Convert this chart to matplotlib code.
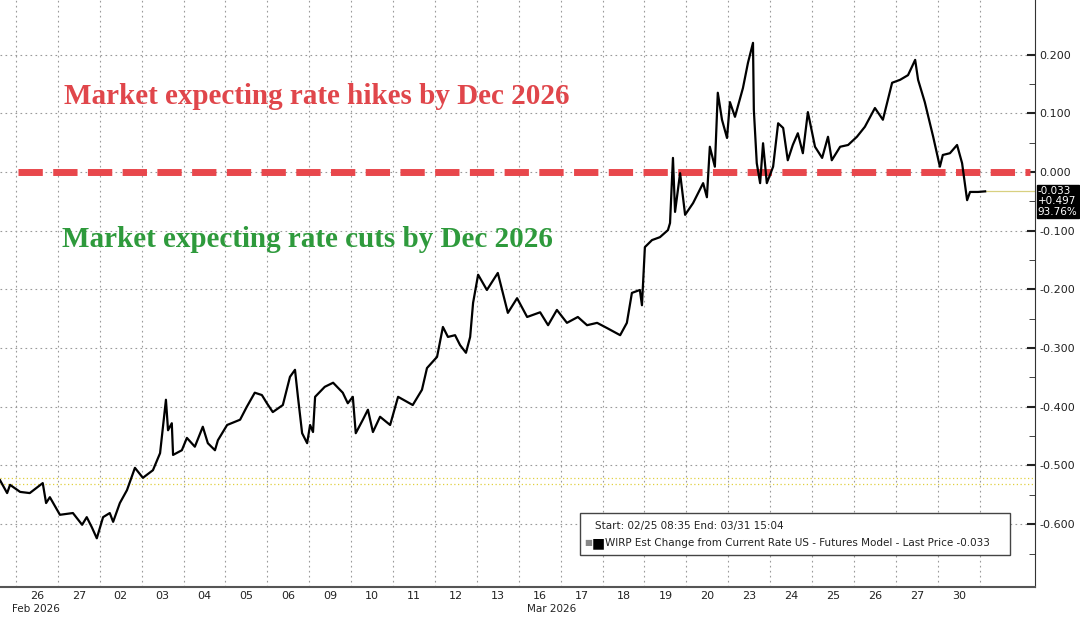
import matplotlib
matplotlib.use("Agg")
import matplotlib.pyplot as plt
from matplotlib.patches import Rectangle

day_labels = ["26","27","02","03","04","05","06","09","10","11","12","13","16","17","18","19","20","23","24","25","26","27","30"]
x = [-0.38,-0.21,-0.14,0.10,0.33,0.64,0.72,0.81,1.05,1.36,1.58,1.69,1.81,1.93,2.08,2.24,2.32,2.48,2.65,2.84,3.03,3.27,3.44,3.58,3.63,3.72,3.75,3.96,4.08,4.27,4.46,4.58,4.75,4.82,5.04,5.35,5.51,5.70,5.87,5.99,6.13,6.37,6.54,6.66,6.73,6.83,6.95,7.02,7.09,7.14,7.37,7.57,7.80,7.92,8.04,8.11,8.28,8.40,8.52,8.69,8.93,9.12,9.47,9.69,9.81,10.05,10.19,10.31,10.48,10.60,10.74,10.84,10.91,11.03,11.24,11.50,11.74,11.96,12.20,12.51,12.70,12.91,13.15,13.41,13.63,13.87,14.11,14.42,14.58,14.70,14.89,14.94,15.01,15.18,15.37,15.56,15.61,15.68,15.73,15.85,15.97,16.16,16.40,16.49,16.56,16.68,16.75,16.85,16.97,17.04,17.16,17.35,17.47,17.59,17.61,17.68,17.76,17.83,17.92,18.07,18.19,18.31,18.42,18.54,18.66,18.78,18.90,19.07,19.24,19.38,19.47,19.67,19.86,20.07,20.26,20.50,20.69,20.91,21.10,21.29,21.46,21.53,21.69,21.89,22.05,22.12,22.29,22.46,22.58,22.70,22.77,22.96,23.13]
y = [-0.525,-0.547,-0.533,-0.545,-0.547,-0.530,-0.564,-0.554,-0.584,-0.581,-0.601,-0.588,-0.605,-0.624,-0.588,-0.581,-0.596,-0.564,-0.542,-0.504,-0.521,-0.508,-0.479,-0.388,-0.440,-0.428,-0.482,-0.474,-0.453,-0.468,-0.434,-0.462,-0.474,-0.457,-0.431,-0.422,-0.400,-0.376,-0.380,-0.394,-0.409,-0.397,-0.349,-0.337,-0.383,-0.445,-0.462,-0.431,-0.443,-0.383,-0.366,-0.359,-0.376,-0.394,-0.383,-0.445,-0.422,-0.405,-0.443,-0.417,-0.431,-0.383,-0.397,-0.371,-0.334,-0.315,-0.264,-0.281,-0.278,-0.295,-0.308,-0.281,-0.223,-0.175,-0.201,-0.172,-0.240,-0.215,-0.247,-0.239,-0.261,-0.235,-0.257,-0.247,-0.261,-0.257,-0.266,-0.278,-0.257,-0.206,-0.201,-0.227,-0.128,-0.116,-0.111,-0.099,-0.087,0.024,-0.068,-0.002,-0.073,-0.053,-0.019,-0.043,0.043,0.009,0.135,0.089,0.058,0.119,0.094,0.143,0.186,0.220,0.106,0.015,-0.019,0.049,-0.019,0.009,0.083,0.075,0.020,0.046,0.066,0.032,0.102,0.043,0.024,0.060,0.020,0.043,0.046,0.060,0.077,0.109,0.089,0.152,0.157,0.165,0.191,0.157,0.119,0.060,0.009,0.029,0.032,0.046,0.015,-0.048,-0.034,-0.034,-0.033]
y_ticks = [0.2,0.1,0.0,-0.1,-0.2,-0.3,-0.4,-0.5,-0.6]
last = -0.033

fig = plt.figure(figsize=(10.8,6.17), dpi=100)
ax = fig.add_axes([0.0, 1-587/617, 1035/1080, 587/617])
ax.set_xlim(-0.38, 24.32)
ax.set_ylim(-0.707, 0.293)
ax.grid(True, which="major", color="#9a9a9a", linestyle=(0,(1.5,3)), linewidth=0.8)
ax.set_xticks(range(0,24))
ax.set_xticklabels([])
ax.set_xticks([i+0.5 for i in range(len(day_labels))], minor=True)
ax.set_xticklabels(day_labels, minor=True, fontsize=8, color="#222")
ax.tick_params(axis="x", which="both", length=0, pad=3)
ax.yaxis.tick_right()
ax.set_yticks(y_ticks)
ax.set_yticklabels([f"{v:.3f}" for v in y_ticks], fontsize=8, color="#222")
ax.set_yticks([v-0.05 for v in y_ticks], minor=True)
ax.tick_params(axis="y", which="major", direction="in", length=6, width=1.5, color="#222", pad=3)
ax.tick_params(axis="y", which="minor", direction="in", length=4, color="#222")
for s in ["top","left"]:
    ax.spines[s].set_visible(False)
ax.spines["right"].set_color("#333"); ax.spines["bottom"].set_color("#555")
ax.spines["bottom"].set_linewidth(1.5)

ax.axhline(-0.521, color="#e0d040", ls=(0,(1,2)), lw=0.9)
ax.axhline(-0.532, color="#e0d040", ls=(0,(1,2)), lw=0.9)
ax.plot([0.05, 24.2], [0, 0], color="#e8474c", lw=5, ls=(0,(3.5,1.5)), zorder=3)
ax.plot(x, y, color="black", lw=1.6, zorder=4)
ax.plot([x[-1], 24.32], [last, last], color="#d8d080", lw=0.9)

ax.text(1.15, 0.128, "Market expecting rate hikes by Dec 2026", color="#e0464b",
        fontsize=21, fontweight="bold", family="Liberation Serif", va="center")
ax.text(1.1, -0.115, "Market expecting rate cuts by Dec 2026", color="#2e9a3c",
        fontsize=21, fontweight="bold", family="Liberation Serif", va="center")

ax.annotate("-0.033\n+0.497\n93.76%", xy=(1.0, last), xycoords=("axes fraction","data"),
            xytext=(2, 4), textcoords="offset points", va="top", ha="left", fontsize=7.5,
            color="white", linespacing=1.05, annotation_clip=False,
            bbox=dict(boxstyle="square,pad=0.1", fc="black", ec="black"))

box = Rectangle((580/1035, (587-555)/587), 430/1035, 42/587, transform=ax.transAxes,
                fc="white", ec="#444", lw=1, zorder=5)
ax.add_patch(box)
ax.text(595/1035, (587-526)/587, "Start: 02/25 08:35 End: 03/31 15:04", transform=ax.transAxes,
        fontsize=7.5, va="center", zorder=6, color="#222")
ax.text(584/1035, (587-543)/587, "\u25a0", transform=ax.transAxes, fontsize=6, va="center", color="#888", zorder=6)
ax.text(592/1035, (587-543)/587, "\u25a0", transform=ax.transAxes, fontsize=10, va="center", color="black", zorder=6)
ax.text(605/1035, (587-543)/587, "WIRP Est Change from Current Rate US - Futures Model - Last Price -0.033",
        transform=ax.transAxes, fontsize=7.5, va="center", zorder=6, color="#222")

fig.text(12/1080, 1-609/617, "Feb 2026", fontsize=7.5, va="center", color="#222")
fig.text(527/1080, 1-609/617, "Mar 2026", fontsize=7.5, va="center", color="#222")
fig.savefig("out.png", dpi=100)
